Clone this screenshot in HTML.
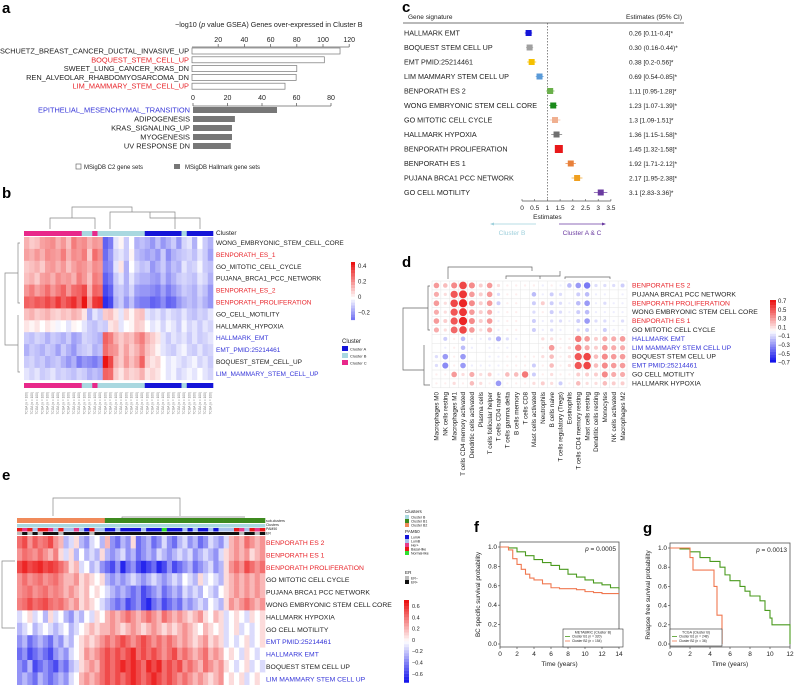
<!DOCTYPE html>
<html><head><meta charset="utf-8"><style>
body{margin:0;background:#fff}
svg{display:block;font-family:"Liberation Sans",sans-serif}
</style></head><body>
<svg id="s" width="794" height="685" viewBox="0 0 794 685" xmlns="http://www.w3.org/2000/svg"></svg>
<script>
// ---------- DATA ----------
const aC2Labels=["SCHUETZ_BREAST_CANCER_DUCTAL_INVASIVE_UP","BOQUEST_STEM_CELL_UP","SWEET_LUNG_CANCER_KRAS_DN","REN_ALVEOLAR_RHABDOMYOSARCOMA_DN","LIM_MAMMARY_STEM_CELL_UP"];
const aC2Values=[113,101,80,79.5,71];
const aC2Ticks=[20,40,60,80,100,120];
const aHLabels=["EPITHELIAL_MESENCHYMAL_TRANSITION","ADIPOGENESIS","KRAS_SIGNALING_UP","MYOGENESIS","UV RESPONSE DN"];
const aHValues=[48.7,24.3,22.6,22.6,21.9];
const aHTicks=[0,20,40,60,80];

const bRows=["WONG_EMBRYONIC_STEM_CELL_CORE","BENPORATH_ES_1","GO_MITOTIC_CELL_CYCLE","PUJANA_BRCA1_PCC_NETWORK","BENPORATH_ES_2","BENPORATH_PROLIFERATION","GO_CELL_MOTILITY","HALLMARK_HYPOXIA","HALLMARK_EMT","EMT_PMID:25214461","BOQUEST_STEM_CELL_UP","LIM_MAMMARY_STEM_CELL_UP"];
const bRowColors=["k","r","k","k","r","r","k","k","b","b","k","b"];
const bClusters="CCCCCCCCCCCBBCBBBBBBBBBAAAAAAABAAAAA".split("");
const bVals=[
[.15,.1,.12,.18,.2,.22,.15,.2,.12,.25,.2,.22,.15,.2,.18,-.3,-.25,-.05,.02,-.1,0,-.15,-.12,-.15,-.2,-.12,-.2,-.15,-.1,-.2,-.08,-.05,-.15,0,-.1,-.15],
[.18,.15,.2,.15,.22,.2,.18,.25,.15,.22,.2,.25,.1,.28,.22,-.28,-.2,-.08,-.05,-.1,.02,-.12,-.15,-.18,-.15,-.2,-.1,-.22,-.15,-.12,-.1,-.08,-.12,-.05,-.1,-.18],
[.1,.12,.15,.1,.18,.2,.15,.2,.12,.18,.22,.2,.15,.22,.2,-.25,-.22,-.05,.05,-.15,0,-.08,-.12,-.1,-.2,-.15,-.1,-.18,-.12,-.15,-.05,-.1,-.08,-.02,-.1,-.12],
[.12,.15,.1,.18,.2,.15,.22,.18,.2,.15,.25,.2,.12,.25,.22,-.3,-.25,-.1,-.05,-.15,-.05,-.12,-.15,-.15,-.18,-.2,-.12,-.2,-.15,-.1,-.08,-.1,-.12,-.05,-.08,-.15],
[.2,.25,.18,.22,.28,.2,.25,.3,.2,.28,.3,.35,.15,.3,.28,-.35,-.3,-.12,-.1,-.15,-.08,-.18,-.2,-.2,-.22,-.25,-.18,-.25,-.2,-.15,-.1,-.12,-.15,-.08,-.12,-.2],
[.3,.28,.32,.3,.35,.3,.38,.3,.35,.4,.3,.45,.2,.38,.4,-.4,-.35,-.15,-.1,-.2,-.12,-.22,-.25,-.25,-.3,-.28,-.22,-.3,-.28,-.2,-.15,-.12,-.15,-.1,-.15,-.2],
[.12,.15,.1,.12,.15,.1,.08,.12,.1,.15,.12,.05,-.15,-.05,-.1,.1,.12,.05,-.05,.08,.02,.1,.12,-.05,-.08,-.05,-.1,-.05,-.08,-.1,-.05,-.1,-.12,-.08,-.1,-.05],
[.05,.02,.05,0,.05,.02,-.02,0,-.05,.02,0,-.05,-.1,-.12,-.08,-.1,.05,.08,-.05,0,.02,.1,.08,0,-.05,-.02,-.08,-.02,-.05,-.1,-.02,-.08,-.05,-.1,-.05,-.08],
[-.1,-.12,-.08,-.1,-.15,-.1,-.12,-.15,-.1,-.18,-.15,-.08,-.1,-.12,-.15,.3,.25,.15,.1,.15,.12,.2,.25,.15,.1,.05,-.05,-.1,-.05,-.08,-.05,-.1,-.05,-.1,-.08,-.05],
[-.15,-.1,-.12,-.15,-.1,-.12,-.18,-.1,-.15,-.2,-.12,-.1,-.08,-.15,-.12,.28,.22,.2,.1,.18,.1,.15,.22,.12,.08,.02,-.05,-.08,-.1,-.05,-.02,-.08,-.1,-.05,-.1,-.08],
[-.1,-.08,-.12,-.1,-.15,-.12,-.1,-.15,-.2,-.15,-.25,-.2,-.22,-.25,-.2,.45,.35,.15,.1,.2,.12,.18,.3,.1,.05,.08,0,-.05,-.02,-.05,-.08,-.05,-.02,-.08,-.05,-.1],
[-.05,-.08,-.05,-.1,-.08,-.05,-.1,-.08,-.1,-.12,-.08,-.1,-.15,-.12,-.15,.3,.28,.1,.05,.12,.08,.1,.15,.05,.08,.05,0,-.05,-.02,-.08,-.05,-.02,-.05,0,-.05,-.08]];
const bTicks=[0.4,0.2,0,-0.2];

const cLabels=["HALLMARK EMT","BOQUEST STEM CELL UP","EMT PMID:25214461","LIM MAMMARY STEM CELL UP","BENPORATH ES 2","WONG EMBRYONIC STEM CELL CORE","GO MITOTIC CELL CYCLE","HALLMARK HYPOXIA","BENPORATH PROLIFERATION","BENPORATH ES 1","PUJANA BRCA1 PCC NETWORK","GO CELL MOTILITY"];
const cEst=[0.26,0.30,0.38,0.69,1.11,1.23,1.3,1.36,1.45,1.92,2.17,3.1];
const cLo=[0.11,0.16,0.2,0.54,0.95,1.07,1.09,1.15,1.32,1.71,1.95,2.83];
const cHi=[0.4,0.44,0.56,0.85,1.28,1.39,1.51,1.58,1.58,2.12,2.38,3.36];
const cText=["0.26 [0.11-0.4]*","0.30 (0.16-0.44)*","0.38 [0.2-0.56]*","0.69 [0.54-0.85]*","1.11 [0.95-1.28]*","1.23 [1.07-1.39]*","1.3 [1.09-1.51]*","1.36 [1.15-1.58]*","1.45 [1.32-1.58]*","1.92 [1.71-2.12]*","2.17 [1.95-2.38]*","3.1 [2.83-3.36]*"];
const cTicks=[0,0.5,1,1.5,2,2.5,3,3.5];

const dRows=["BENPORATH ES 2","PUJANA BRCA1 PCC NETWORK","BENPORATH PROLIFERATION","WONG EMBRYONIC STEM CELL CORE","BENPORATH ES 1","GO MITOTIC CELL CYCLE","HALLMARK EMT","LIM MAMMARY STEM CELL UP","BOQUEST STEM CELL UP","EMT PMID:25214461","GO CELL MOTILITY","HALLMARK HYPOXIA"];
const dRowColors=["r","k","r","k","r","k","b","b","k","b","k","k"];
const dCols=["Macrophages M0","NK cells resting","Macrophages M1","T cells CD4 memory activated","Dendritic cells activated","Plasma cells","T cells follicular helper","T cells CD4 naive","T cells gamma delta","B cells memory","T cells CD8","Mast cells activated","Neutrophils","B cells naive","T cells regulatory (Tregs)","Eosinophils","T cells CD4 memory resting","Mast cells resting","Dendritic cells resting","Monocytes","NK cells activated","Macrophages M2"];
const dVals=[
[.3,.2,.35,.55,.35,.15,.3,.1,.05,.05,.05,.05,-.05,.05,-.05,-.2,-.3,-.4,-.1,-.1,-.1,-.15],
[.25,.1,.5,.6,.3,.15,.3,-.1,.05,.05,0,-.2,-.05,-.15,-.1,0,-.15,-.2,-.05,-.05,0,-.05],
[.3,.1,.55,.65,.35,.15,.3,-.15,.05,.05,0,-.15,.15,-.15,-.1,-.05,-.2,-.3,-.05,-.1,-.05,-.05],
[.25,.1,.5,.6,.3,.15,.25,-.05,.05,.05,0,-.1,.05,-.15,-.1,-.05,-.15,-.2,-.05,-.05,-.05,-.05],
[.3,.15,.5,.65,.35,.15,.3,-.05,.05,.05,0,-.15,-.05,-.1,-.1,-.05,-.15,-.3,-.1,-.1,-.05,-.1],
[.25,.1,.45,.55,.3,.1,.25,-.05,.05,.05,0,-.15,-.05,-.1,-.05,0,-.1,-.15,-.05,-.15,-.05,-.05],
[0,-.15,.05,-.2,-.05,-.05,-.1,-.25,-.1,-.05,0,0,.1,.1,.05,.05,.4,.3,.15,.25,.25,.3],
[0,-.05,.05,-.2,-.05,0,-.05,-.05,-.05,0,0,0,.05,.3,.05,.1,.4,.25,.15,.3,.25,.25],
[-.1,-.3,.05,-.3,0,0,-.05,-.05,.05,.05,.05,.05,.1,.2,.05,.1,.5,.55,.2,.35,.3,.3],
[-.1,-.35,.05,-.3,-.05,-.05,-.05,-.05,.05,.05,.05,-.15,.05,.2,.05,.1,.5,.55,.2,.35,.3,.3],
[.05,.05,.3,.1,.25,.1,.15,-.05,.2,.2,.4,-.15,.05,.1,.05,.05,.15,.15,.15,.35,.25,.25],
[.05,.05,.1,.05,.2,.1,.05,-.3,.05,.05,.05,.1,.15,.1,-.15,.05,.2,.1,.1,.2,.15,.15]];
const dTicks=["0.7","0.5","0.3","0.1","\u22120.1","\u22120.3","\u22120.5","\u22120.7"];

const eRows=["BENPORATH ES 2","BENPORATH ES 1","BENPORATH PROLIFERATION","GO MITOTIC CELL CYCLE","PUJANA BRCA1 PCC NETWORK","WONG EMBRYONIC STEM CELL CORE","HALLMARK HYPOXIA","GO CELL MOTILITY","EMT PMID:25214461","HALLMARK EMT","BOQUEST STEM CELL UP","LIM MAMMARY STEM CELL UP"];
const eRowColors=["r","r","r","k","k","k","k","k","b","b","k","b"];
const eSub="OOOOOOOOOOOOOOOOOGGGGGGGGGGGGGGGGGGGGGGGGGGGGGGG".split("");
const ePam="RPRLRRPLRLLPLARLLAALAAAALAAANAAALALAALALLLRPLRPR".split("");
const eER="GKGKGKKKGKKKKKGKKKKKKKKKKKKKKKKKKKKKKKKKKKKGKKGK".split("");
const eVals=[
[.4,.5,.3,.45,.35,.4,.5,.3,.2,-.2,-.1,.1,-.2,-.3,-.1,0,-.2,.2,-.3,-.4,-.2,-.3,.1,-.4,-.3,-.2,-.4,-.3,-.1,-.3,-.4,-.2,-.1,-.3,-.2,-.4,-.3,-.1,-.2,-.3,-.1,.2,.3,.2,.4,.3,.2,.3],
[.3,.4,.35,.3,.4,.3,.2,.35,.1,-.1,.1,-.2,0,-.2,-.1,-.2,.1,-.2,-.3,-.2,-.1,-.3,-.2,-.4,-.3,-.2,-.3,-.1,-.2,-.3,-.2,-.1,-.2,-.1,-.3,-.2,-.1,-.2,-.3,-.1,.1,.2,.3,.2,.3,.1,.2,.3],
[.5,.6,.5,.55,.6,.5,.55,.5,.4,.3,.1,.2,-.1,0,-.2,-.1,-.3,-.4,-.5,-.3,-.6,-.4,-.3,-.5,-.6,-.5,-.4,-.6,-.5,-.3,-.5,-.4,-.3,-.2,-.4,-.3,-.2,-.1,-.3,-.2,.1,.3,.4,.3,.5,.4,.3,.4],
[.3,.4,.3,.35,.4,.3,.35,.4,.3,.2,.2,.3,.1,.2,.1,0,.1,-.2,-.3,-.2,-.3,-.2,-.1,-.2,-.3,-.2,-.1,-.2,-.3,-.2,-.1,-.2,0,-.1,-.2,.1,-.1,0,-.1,-.2,.1,.2,.3,.2,.3,.2,.3,.2],
[.3,.35,.4,.3,.35,.4,.3,.35,.3,.2,.3,.2,.1,.2,0,.1,0,-.1,-.2,-.3,-.2,-.3,-.4,-.3,-.5,-.4,-.3,-.2,-.4,-.3,-.2,-.3,-.1,-.2,-.1,-.2,0,-.1,-.2,0,.1,.2,.3,.2,.3,.2,.3,.2],
[.35,.4,.5,.4,.45,.5,.4,.35,.4,.3,.2,.3,.1,.2,.1,0,-.1,-.2,-.3,-.4,-.3,-.5,-.4,-.3,-.5,-.6,-.4,-.3,-.5,-.4,-.3,-.4,-.2,-.3,-.2,-.1,-.2,0,-.1,-.2,.1,.3,.2,.3,.4,.3,.2,.3],
[-.1,0,.1,-.1,0,-.2,.1,-.1,0,-.2,-.3,-.1,-.2,0,-.1,.1,0,.2,.3,.2,.3,.4,.3,.2,.3,.4,.3,.2,.4,.3,.2,.3,.2,.1,.2,.3,.1,0,.2,.1,-.1,0,.1,0,-.1,.1,0,.1],
[-.2,-.1,0,-.2,-.1,0,-.1,-.2,-.1,0,-.2,-.1,0,.1,.2,.1,.2,.2,.3,.2,.1,.2,.3,.2,.1,.2,.3,.2,.1,.2,.1,.2,.3,.2,.1,0,.2,.1,0,.1,-.1,0,.1,-.1,0,-.1,0,.1],
[-.3,-.2,-.4,-.3,-.2,-.3,-.4,-.2,-.3,-.1,-.2,0,.1,.2,.1,.2,.3,.4,.3,.4,.5,.4,.3,.4,.5,.4,.3,.4,.3,.4,.3,.2,.3,.2,.1,.2,.3,.1,.2,.1,-.1,0,-.1,0,.1,-.1,0,.1],
[-.4,-.3,-.5,-.4,-.3,-.4,-.5,-.3,-.2,-.3,-.1,0,.1,.3,.2,.3,.4,.5,.4,.5,.4,.5,.6,.4,.5,.4,.5,.4,.3,.4,.5,.3,.4,.3,.2,.3,.4,.2,.3,.2,0,.1,0,-.1,.1,0,-.1,0],
[-.3,-.4,-.2,-.5,-.4,-.3,-.4,-.5,-.3,-.4,-.2,-.1,.1,.2,.3,.2,.4,.5,.4,.5,.6,.5,.6,.5,.4,.6,.5,.6,.4,.5,.4,.5,.3,.4,.3,.2,.4,.3,.2,.3,.1,0,-.1,0,.1,-.1,0,-.1],
[-.3,-.2,-.3,-.4,-.2,-.3,-.4,-.3,-.2,-.3,-.1,0,.2,.3,.2,.3,.4,.5,.4,.5,.4,.5,.6,.5,.4,.5,.6,.5,.4,.5,.4,.3,.4,.3,.2,.3,.2,.1,.2,.3,0,.1,0,.1,-.1,0,.1,0]];
const eTicks=[0.6,0.4,0.2,0,-0.2,-0.4,-0.6];

const fGreenT=[0,1,2,3,4,5,6,7,8,9,10,11,12,13,14];
const fGreenS=[1,0.99,0.95,0.91,0.87,0.84,0.81,0.77,0.72,0.69,0.66,0.63,0.61,0.58,0.56];
const fOrangeT=[0,1,1.5,2,2.5,3,3.5,4,5,6,7,8,9,10,11,12,14];
const fOrangeS=[1,0.97,0.88,0.82,0.77,0.72,0.68,0.66,0.62,0.58,0.57,0.57,0.56,0.54,0.53,0.52,0.52];
const gGreenT=[0,1,2,3,4,5,5.5,6,7,7.5,8,9,9.5,10,10.2,12,12];
const gGreenS=[1,0.99,0.96,0.9,0.86,0.8,0.72,0.66,0.6,0.55,0.5,0.45,0.35,0.27,0.2,0.2,0];
const gOrangeT=[0,1.8,2,2.3,4.4,4.7,5.2];
const gOrangeS=[1,1,0.9,0.77,0.6,0.3,0];
const survTicks=[0,0.2,0.4,0.6,0.8,1.0];
const fXTicks=[0,2,4,6,8,10,12,14];
const gXTicks=[0,2,4,6,8,10,12];

// ---------- helpers ----------
const S=document.getElementById('s');const NS="http://www.w3.org/2000/svg";
function el(tag,at,parent){const e=document.createElementNS(NS,tag);for(const k in at)e.setAttribute(k,at[k]);(parent||S).appendChild(e);return e;}
function tx(x,y,str,size,at,parent){const e=el('text',Object.assign({x:x,y:y,'font-size':size,fill:'#222'},at||{}),parent);e.textContent=str;return e;}
function grp(name){const g=el('g',{});return g;}
const COL={r:'#e8242a',b:'#3535d8',k:'#222'};
function div(v,m){let t=Math.max(-1,Math.min(1,v/m));if(t>=0){return `rgb(${Math.round(255-20*t)},${Math.round(255-235*t)},${Math.round(255-235*t)})`;}t=-t;return `rgb(${Math.round(255-235*t)},${Math.round(255-235*t)},${Math.round(255-20*t)})`;}
function letter(x,y,c){const t=tx(x,y,c,15,{'font-weight':'bold',fill:'#000'});}
function line(x1,y1,x2,y2,st,w,parent){return el('line',{x1,y1,x2,y2,stroke:st||'#333','stroke-width':w||0.8},parent);}
function poly(pts,st,parent){return el('polyline',{points:pts.map(p=>p.join(',')).join(' '),fill:'none',stroke:st||'#777','stroke-width':0.7},parent);}

// ---------- Panel a ----------
letter(2,13,'a');
{const g=grp('panel-a');
const xa=v=>192+v*26.2/20;const xh=v=>193+v*34.5/20;
const tt=tx(175,27,'',7.2,{},g);tt.innerHTML='<tspan>\u2212log10 (</tspan><tspan font-style="italic">p</tspan><tspan> value GSEA) Genes over-expressed in Cluster B</tspan>';
line(192,47,xa(120),47,'#666',0.8,g);
aC2Ticks.forEach(t=>{tx(xa(t),42,t,7,{'text-anchor':'middle'},g);line(xa(t),44,xa(t),47,'#666',0.8,g);});
aC2Labels.forEach((l,i)=>{const y=51+i*8.8;const r=el('rect',{x:192,y:y-3,width:xa(aC2Values[i])-192,height:6,fill:'#fff',stroke:'#777','stroke-width':0.7},g);
tx(189,y+2.5,l,7.4,{'text-anchor':'end',fill:(i==1||i==4)?'#e8242a':'#222'},g);});
line(193,106,xh(80),106,'#666',0.8,g);
aHTicks.forEach(t=>{tx(xh(t),100,t,7,{'text-anchor':'middle'},g);line(xh(t),103,xh(t),106,'#666',0.8,g);});
aHLabels.forEach((l,i)=>{const y=110+i*9;const r=el('rect',{x:193,y:y-3,width:xh(aHValues[i])-193,height:6,fill:'#777'},g);
tx(190,y+2.5,l,7.4,{'text-anchor':'end',fill:i==0?'#3535d8':'#222'},g);});
el('rect',{x:76,y:164,width:5,height:5,fill:'#fff',stroke:'#555','stroke-width':0.6},g);tx(84,169,'MSigDB C2 gene sets',6,{},g);
el('rect',{x:174,y:164,width:6,height:5,fill:'#777'},g);tx(185,169,'MSigDB Hallmark gene sets',6,{},g);}

// ---------- Panel b ----------
letter(2,198,'b');
{const g=grp('panel-b');const x0=24,cw=189/36,y0=237,rh=11.9;
poly([[50,229],[50,218],[95,218],[95,229]],'#888',g);poly([[72,218],[72,207],[132,207],[132,212]],'#888',g);
poly([[110,229],[110,212],[175,212],[175,229]],'#888',g);poly([[150,212],[150,218],[200,218],[200,229]],'#888',g);
const cc={C:'#e8288a',B:'#a9d8e0',A:'#1414d8'};
bClusters.forEach((c,j)=>{el('rect',{x:x0+j*cw,y:231,width:cw+0.3,height:5,fill:cc[c]},g);el('rect',{x:x0+j*cw,y:383,width:cw+0.3,height:5,fill:cc[c]},g);});
bVals.forEach((row,i)=>row.forEach((v,j)=>{const r=el('rect',{x:x0+j*cw,y:y0+i*rh,width:cw+0.3,height:rh+0.3,fill:div(v,0.45)},g);}));
poly([[20,243],[18,243],[18,303],[20,303]],'#888',g);poly([[18,273],[5,273],[5,345],[18,345]],'#888',g);poly([[18,315],[18,372],[20,372]],'#888',g);
tx(216,235,'Cluster',6.5,{},g);
bRows.forEach((l,i)=>tx(216,y0+i*rh+8,l,6.5,{fill:COL[bRowColors[i]]},g));
for(let k=0;k<20;k++){el('rect',{x:351,y:262+k*2.9,width:4,height:3,fill:div(0.45-k*0.0375,0.45)},g);}
bTicks.forEach(t=>{const y=262+(0.45-t)/0.0375*2.9;tx(358,y+2,t==0?'0':(t<0?'\u2212'+(-t):t),6,{},g);});
tx(342,343,'Cluster',6,{},g);
[['Cluster A','A'],['Cluster B','B'],['Cluster C','C']].forEach((c,i)=>{el('rect',{x:342,y:346+i*7,width:6,height:5,fill:cc[c[1]]},g);tx(350,350.5+i*7,c[0],4,{},g);});
for(let j=0;j<36;j++){tx(0,0,'TCGA (n = 100)',3.2,{fill:'#777',transform:`translate(${x0+j*cw+3.5},392) rotate(-90)`,'text-anchor':'end'},g);}}

// ---------- Panel c ----------
letter(402,12,'c');
{const g=grp('panel-c');const xc=v=>522+v*25.4;const ry=i=>33+i*14.5;
tx(408,19,'Gene signature',6.5,{},g);tx(682,19,'Estimates (95% CI)',6.5,{'text-anchor':'end'},g);
line(403,23,684,23,'#444',0.8,g);
line(xc(1),23,xc(1),200,'#555',0.7,g).setAttribute('stroke-dasharray','1.5,1.5');
const cols=['#1414d8','#a0a0a0','#f5c000','#5a9ad8','#6ab04a','#1a8a1a','#f0b090','#707070','#e8181a','#e8803a','#f0a020','#6a3aa0'];
cLabels.forEach((l,i)=>{const y=ry(i);tx(404,y+2.5,l,7.2,{},g);
line(xc(cLo[i]),y,xc(cHi[i]),y,cols[i],0.7,g);
const s=i==8?8:6;const r=el('rect',{x:xc(cEst[i])-s/2,y:y-s/2,width:s,height:s,fill:cols[i]},g);
tx(629,y+2.5,cText[i],6.5,{},g);});
line(xc(0),201,xc(3.5),201,'#555',0.8,g);
cTicks.forEach(t=>{line(xc(t),199,xc(t),201,'#555',0.6,g);tx(xc(t),210,t,6.5,{'text-anchor':'middle'},g);});
tx(xc(1),219,'Estimates',6.5,{'text-anchor':'middle'},g);
line(491,224,536,224,'#9fd0dc',0.7,g);el('path',{d:'M490,224 l4,-1.5 v3z',fill:'#9fd0dc'},g);
line(559,224,605,224,'#6a3aa0',0.7,g);el('path',{d:'M606,224 l-4,-1.5 v3z',fill:'#6a3aa0'},g);
tx(512,235,'Cluster B',6.5,{'text-anchor':'middle',fill:'#9fd0dc'},g);tx(582,235,'Cluster A & C',6.5,{'text-anchor':'middle',fill:'#6a3aa0'},g);}

// ---------- Panel d ----------
letter(402,267,'d');
{const g=grp('panel-d');const x0=432,cw=195/22,y0=281,rh=8.9;
poly([[448,279],[448,267],[532,267],[532,271]],'#666',g);poly([[506,279],[506,276],[560,276],[560,271]],'#666',g);poly([[540,276],[540,279]],'#666',g);poly([[565,279],[565,277],[610,277],[610,279]],'#666',g);
poly([[430,286],[428,286],[428,330],[430,330]],'#666',g);poly([[428,308],[403,308],[403,370],[424,370]],'#666',g);poly([[424,345],[424,385],[430,385]],'#666',g);
for(let i=0;i<=12;i++)line(x0,y0+i*rh,x0+22*cw,y0+i*rh,'#e4e4e4',0.5,g);
for(let j=0;j<=22;j++)line(x0+j*cw,y0,x0+j*cw,y0+12*rh,'#e4e4e4',0.5,g);
dVals.forEach((row,i)=>row.forEach((v,j)=>{const c=el('circle',{cx:x0+(j+0.5)*cw,cy:y0+(i+0.5)*rh,r:Math.sqrt(Math.abs(v)/0.7)*4.3,fill:div(v,0.7)},g);}));
dRows.forEach((l,i)=>tx(632,y0+i*rh+6.5,l,6.8,{fill:COL[dRowColors[i]]},g));
dCols.forEach((l,j)=>tx(0,0,l,6.3,{transform:`translate(${x0+(j+0.5)*cw+2.2},392) rotate(-90)`,'text-anchor':'end'},g));
for(let k=0;k<24;k++)el('rect',{x:770,y:300+k*2.6,width:6,height:2.8,fill:div(0.7-k*0.0609,0.7)},g);
dTicks.forEach((t,i)=>tx(778,303+i*8.8,t,6,{},g));}

// ---------- Panel e ----------
letter(2,480,'e');
{const g=grp('panel-e');const x0=17,cw=248/48,y0=536,rh=12.4;
poly([[53,516],[53,498],[180,498],[180,516]],'#888',g);poly([[122,518],[122,517],[245,517]],'#888',g);
const sc={O:'#f08a5a',G:'#3d8a1e'};const pc={R:'#e8181a',P:'#e83a8a',L:'#a9c0ec',A:'#1414d8',N:'#30e030'};
eSub.forEach((c,j)=>{el('rect',{x:x0+j*cw,y:518,width:cw+0.3,height:5,fill:sc[c]},g);el('rect',{x:x0+j*cw,y:524,width:cw+0.3,height:3.5,fill:'#a9d8e0'},g);el('rect',{x:x0+j*cw,y:528,width:cw+0.3,height:3.5,fill:pc[ePam[j]]},g);el('rect',{x:x0+j*cw,y:532,width:cw+0.3,height:3,fill:eER[j]=='K'?'#111':'#bbb'},g);});
[['sub-clusters',522],['Clusters',526],['PAM50',530],['ER',534.5]].forEach(a=>tx(266,a[1],a[0],3.5,{},g));
eVals.forEach((row,i)=>row.forEach((v,j)=>{const r=el('rect',{x:x0+j*cw,y:y0+i*rh,width:cw+0.3,height:rh+0.3,fill:div(v,0.65)},g);}));
poly([[15,561],[2,561],[2,628],[15,628]],'#888',g);
eRows.forEach((l,i)=>tx(266,y0+i*rh+9,l,6.8,{fill:COL[eRowColors[i]]},g));
tx(405,513,'Clusters',4.6,{},g);
[['#a9d8e0','Cluster B'],['#3d8a1e','Cluster B1'],['#f08a5a','Cluster B2']].forEach((c,i)=>{el('rect',{x:405,y:515+i*4,width:4,height:4,fill:c[0]},g);tx(411,518.5+i*4,c[1],3.5,{},g);});
tx(405,533,'PAM50',4.6,{},g);
[['#1414d8','LumA'],['#a9c0ec','LumB'],['#e83a8a','Her+'],['#e8181a','Basal-like'],['#30e030','Normal-like']].forEach((c,i)=>{el('rect',{x:405,y:535+i*4,width:4,height:4,fill:c[0]},g);tx(411,538.5+i*4,c[1],3.5,{},g);});
tx(405,574,'ER',4.6,{},g);
[['#bbb','ER\u2212'],['#111','ER+']].forEach((c,i)=>{el('rect',{x:405,y:576+i*4,width:4,height:4,fill:c[0]},g);tx(411,579.5+i*4,c[1],3.5,{},g);});
for(let k=0;k<28;k++)el('rect',{x:404,y:600+k*2.95,width:5,height:3.1,fill:div(0.68-k*0.05,0.68)},g);
eTicks.forEach((t,i)=>tx(412,608+i*11.3,t==0?'0':(t<0?'\u2212'+(-t):t),5.5,{},g));}

// ---------- KM panels ----------
function km(name,L,T,R,B,tmax,xt,curves,ylab,pval,legTitle,legN,legBox){
const g=grp(name);const xs=t=>L+t/tmax*(R-L);const ys=s=>B-s*(B-T-2);
el('rect',{x:L,y:T-3,width:R-L,height:B-T+6,fill:'none',stroke:'#555','stroke-width':0.8},g);
survTicks.forEach(t=>{line(L-2,ys(t),L,ys(t),'#555',0.7,g);tx(L-3,ys(t)+2,t.toFixed(1),6.5,{'text-anchor':'end'},g);});
xt.forEach(t=>{line(xs(t),B+3,xs(t),B+5,'#555',0.7,g);tx(xs(t),B+12,t,6.5,{'text-anchor':'middle'},g);});
tx((L+R)/2,B+22,'Time (years)',6.5,{'text-anchor':'middle'},g);
tx(0,0,ylab,6.3,{transform:`translate(${L-20},${(T+B)/2}) rotate(-90)`,'text-anchor':'middle'},g);
const p=tx(R-3,T+6,'',6.5,{'text-anchor':'end'},g);p.innerHTML='<tspan font-style="italic">p</tspan> = '+pval;
curves.forEach(c=>{let d=`M${xs(c.t[0])},${ys(c.s[0])}`;for(let i=1;i<c.t.length;i++){d+=` H${xs(c.t[i])} V${ys(c.s[i])}`;}
const pth=el('path',{d:d,fill:'none',stroke:c.col,'stroke-width':1.1},g);});
el('rect',{x:legBox[0],y:legBox[1],width:legBox[2],height:legBox[3],fill:'#fff',stroke:'#333','stroke-width':0.6},g);
tx(legBox[0]+legBox[2]/2,legBox[1]+4.5,legTitle,3.6,{'text-anchor':'middle'},g);
legN.forEach((n,i)=>{const yy=legBox[1]+8.5+i*4.5;line(legBox[0]+2,yy-1,legBox[0]+7,yy-1,i?'#f07850':'#4a9a1e',0.8,g);tx(legBox[0]+9,yy,n,3.3,{},g);});}
letter(474,532,'f');
km('panel-f-survival',500,545,619,644,14,fXTicks,[{t:fGreenT,s:fGreenS,col:'#4a9a1e',name:'cluster-b1-curve'},{t:fOrangeT,s:fOrangeS,col:'#f07850',name:'cluster-b2-curve'}],'BC specific survival probability','0.0005','METABRIC (Cluster B)',['Cluster B1 (n = 320)','Cluster B2 (n = 154)'],[563,629,60,18]);
letter(643,533,'g');
km('panel-g-survival',670,546,790,644,12,gXTicks,[{t:gGreenT,s:gGreenS,col:'#4a9a1e',name:'cluster-b1-curve'},{t:gOrangeT,s:gOrangeS,col:'#f07850',name:'cluster-b2-curve'}],'Relapse free survival probability','0.0013','TCGA (Cluster B)',['Cluster B1 (n = 248)','Cluster B2 (n = 36)'],[670,629,52,17]);
</script>
</body></html>
